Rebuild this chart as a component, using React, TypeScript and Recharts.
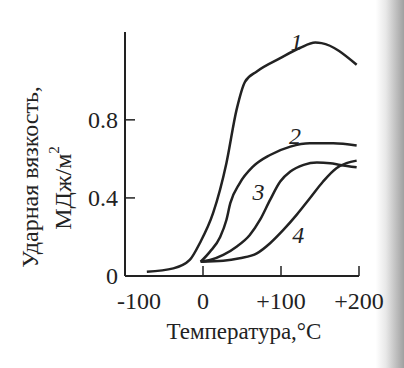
import { LineChart, Line, XAxis, YAxis, ReferenceDot } from 'recharts'

// temperature (°C) / impact toughness (MJ/m²)
const temp1 = [-72, -38, -17, -4, 13, 30, 43, 54, 69, 99, 124, 144, 152, 197]
const kcu1 = [0.022, 0.039, 0.082, 0.169, 0.323, 0.578, 0.851, 0.996, 1.048, 1.116, 1.168, 1.196, 1.193, 1.082]

const temp2 = [-3, 9, 22, 30, 35, 47, 64, 86, 112, 137, 167, 197]
const kcu2 = [0.073, 0.125, 0.2, 0.287, 0.373, 0.475, 0.56, 0.62, 0.663, 0.68, 0.68, 0.668]

const temp3 = [-3, 9, 26, 43, 60, 73, 86, 99, 112, 129, 146, 163, 176, 197]
const kcu3 = [0.073, 0.082, 0.108, 0.15, 0.21, 0.287, 0.39, 0.484, 0.535, 0.569, 0.581, 0.578, 0.569, 0.557]

const temp4 = [-3, 26, 47, 69, 86, 103, 120, 137, 154, 171, 184, 197]
const kcu4 = [0.073, 0.078, 0.091, 0.116, 0.168, 0.236, 0.313, 0.398, 0.484, 0.552, 0.578, 0.591]

const curveNames = ['1', '2', '3', '4']
const nameTemps = [120, 118, 71, 122]
const nameKcu = [1.2, 0.72, 0.43, 0.21]

const xTicks = [-100, 0, 100, 200]
const yTicks = [0, 0.4, 0.8]

const INK = '#222'
const FONT = '"Liberation Serif", "DejaVu Serif", serif'

const toRows = (t: number[], v: number[]) => t.map((x, i) => ({ t: x, v: v[i] }))
const series = [
  toRows(temp1, kcu1),
  toRows(temp2, kcu2),
  toRows(temp3, kcu3),
  toRows(temp4, kcu4),
]

const fmtX = (v: number) => (v > 0 ? `+${v}` : `${v}`)

const XTick = (props: any) => {
  const { x, y, payload } = props
  const first = payload.value === xTicks[0]
  return (
    <g>
      {!first && <line x1={x} y1={y} x2={x} y2={y - 10} stroke={INK} strokeWidth={1.5} />}
      <text
        x={x + (first ? 14 : 0)}
        y={y + 33}
        textAnchor="middle"
        fill={INK}
        fontFamily={FONT}
        fontSize={24}
      >
        {fmtX(payload.value)}
      </text>
    </g>
  )
}

const YTick = (props: any) => {
  const { x, y, payload } = props
  return (
    <g>
      {payload.value !== 0 && <line x1={x} y1={y} x2={x + 10} y2={y} stroke={INK} strokeWidth={1.5} />}
      <text
        x={x - 7}
        y={y}
        dy="0.35em"
        textAnchor="end"
        fill={INK}
        fontFamily={FONT}
        fontSize={24}
      >
        {payload.value}
      </text>
    </g>
  )
}

const XTitle = (props: any) => {
  const { x, y, width } = props.viewBox
  return (
    <text x={x + width / 2 + 2} y={y + 63} textAnchor="middle" fill={INK} fontFamily={FONT} fontSize={23}>
      Температура,°C
    </text>
  )
}

const YTitle = () => (
  <g fill={INK} fontFamily={FONT} fontSize={24}>
    <text x={30} y={177} transform="rotate(-90, 30, 177)" textAnchor="middle" dominantBaseline="central">
      Ударная вязкость,
    </text>
    <text x={63} y={188} transform="rotate(-90, 63, 188)" textAnchor="middle" dominantBaseline="central">
      МДж/м
      <tspan fontSize={15} dy={-9}>2</tspan>
    </text>
  </g>
)

const CurveName = (text: string) => (p: any) => (
  <text
    x={p.cx}
    y={p.cy}
    dy="0.35em"
    textAnchor="middle"
    fill={INK}
    fontFamily={FONT}
    fontStyle="italic"
    fontSize={24}
  >
    {text}
  </text>
)

export default function App() {
  return (
    <div
      style={{
        position: 'absolute',
        left: 0,
        top: 0,
        width: 404,
        height: 368,
        background: 'linear-gradient(to right, #fff 0%, #fff 93%, #e8e8e8 95.5%, #c0c0c0 98%, #a0a0a0 100%)',
      }}
    >
      <LineChart width={404} height={368} margin={{ top: 32, right: 45, bottom: 32, left: 0 }}>
        <XAxis
          type="number"
          dataKey="t"
          domain={[-100, 200]}
          ticks={xTicks}
          interval={0}
          allowDataOverflow
          height={60}
          tickSize={0}
          tickMargin={0}
          tickLine={false}
          tick={<XTick />}
          axisLine={{ stroke: INK, strokeWidth: 2 }}
          label={<XTitle />}
        />
        <YAxis
          type="number"
          dataKey="v"
          domain={[0, 1.25]}
          ticks={yTicks}
          interval={0}
          width={125}
          tickSize={0}
          tickMargin={0}
          tickLine={false}
          tick={<YTick />}
          axisLine={{ stroke: INK, strokeWidth: 2 }}
          label={<YTitle />}
        />
        {series.map((rows, i) => (
          <Line
            key={i}
            data={rows}
            dataKey="v"
            type="monotone"
            stroke={INK}
            strokeWidth={2.5}
            dot={false}
            activeDot={false}
            isAnimationActive={false}
          />
        ))}
        {curveNames.map((n, i) => (
          <ReferenceDot key={n} x={nameTemps[i]} y={nameKcu[i]} r={0} shape={CurveName(n)} />
        ))}
      </LineChart>
    </div>
  )
}
